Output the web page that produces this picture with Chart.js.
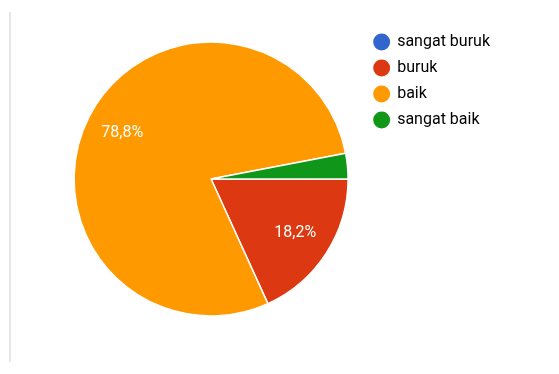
<!DOCTYPE html>
<html>
<head>
<meta charset="utf-8">
<script src="https://cdn.jsdelivr.net/npm/chart.js@4/dist/chart.umd.min.js"></script>
<style>
  body { margin: 0; background: #fff; }
  #wrap { position: relative; width: 559px; height: 374px; }
  #edge { position: absolute; left: 9px; top: 12px; width: 2px; height: 350px; background: #e6e6e6; }
</style>
</head>
<body>
<div id="wrap">
  <div id="edge"></div>
  <canvas id="pie" width="559" height="374"></canvas>
</div>
<script>
const labels = ['sangat buruk', 'buruk', 'baik', 'sangat baik'];
const values = [0, 18.2, 78.8, 3.0];
const colors = ['#3366cc', '#dc3912', '#ff9900', '#109618'];

// percent text inside the bigger slices
const sliceLabels = {
  id: 'sliceLabels',
  afterDatasetsDraw(chart) {
    const ctx = chart.ctx;
    const meta = chart.getDatasetMeta(0);
    ctx.save();
    ctx.font = '16px Roboto';
    ctx.fillStyle = '#ffffff';
    ctx.textAlign = 'center';
    ctx.textBaseline = 'middle';
    meta.data.forEach(function(arc, i) {
      if (values[i] < 5) return;
      const p = arc.getProps(['x', 'y', 'startAngle', 'endAngle', 'outerRadius']);
      const mid = (p.startAngle + p.endAngle) / 2;
      const r = p.outerRadius * 0.73;
      ctx.fillText(values[i].toFixed(1).replace('.', ',') + '%', p.x + Math.cos(mid) * r, p.y + Math.sin(mid) * r);
    });
    ctx.restore();
  }
};

const chart = new Chart(document.getElementById('pie').getContext('2d'), {
  type: 'pie',
  data: {
    labels: labels,
    datasets: [{
      data: values,
      backgroundColor: colors,
      borderColor: '#ffffff',
      borderWidth: 1.5
    }]
  },
  options: {
    responsive: false,
    animation: false,
    rotation: 90,
    radius: 137,
    layout: {
      padding: { left: 58, right: 59, top: 24, bottom: 40 }
    },
    plugins: {
      tooltip: { enabled: false },
      legend: {
        position: 'right',
        align: 'start',
        labels: {
          usePointStyle: true,
          pointStyle: 'circle',
          boxWidth: 15,
          boxHeight: 12,
          padding: 10,
          color: '#222222',
          font: { family: 'Roboto', size: 16 },
          generateLabels(chart) {
            return labels.map((text, i) => ({
              text: text,
              fillStyle: colors[i],
              strokeStyle: colors[i],
              lineWidth: 0,
              pointStyle: 'circle',
              index: i
            }));
          }
        }
      }
    }
  },
  plugins: [sliceLabels]
});
</script>
</body>
</html>
